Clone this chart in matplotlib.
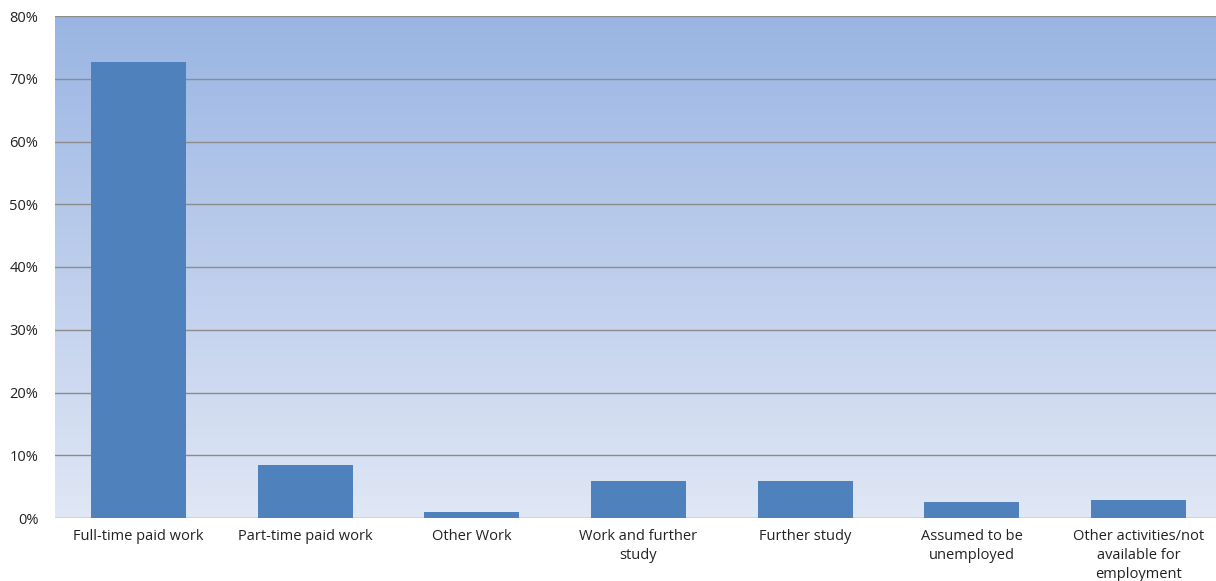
import matplotlib
matplotlib.use("Agg")
import matplotlib.pyplot as plt
import numpy as np
from matplotlib.colors import LinearSegmentedColormap
from matplotlib.ticker import FuncFormatter

categories = ["Full-time paid work", "Part-time paid work", "Other Work",
              "Work and further\nstudy", "Further study", "Assumed to be\nunemployed",
              "Other activities/not\navailable for\nemployment"]
values = [72.7, 8.5, 1.0, 5.9, 5.9, 2.5, 2.8]
yticks = [0, 10, 20, 30, 40, 50, 60, 70, 80]

plt.rcParams['font.family'] = ['Open Sans', 'DejaVu Sans']

fig = plt.figure(figsize=(12.16, 5.81), dpi=100)
ax = fig.add_axes([55/1216, 1-518/581, 1167/1216, (518-16)/581])

x = np.arange(len(categories))
ax.set_xlim(-0.5, len(categories)-0.5)
ax.set_ylim(0, 80)

cmap = LinearSegmentedColormap.from_list("bg", ["#E0E7F5", "#9AB5E3"])
grad = np.linspace(0, 1, 256).reshape(-1, 1)
ax.imshow(grad, cmap=cmap, aspect='auto', origin='lower',
          extent=[-0.5, len(categories)-0.5, 0, 80], zorder=0)

for t in yticks:
    ax.axhline(t, color="#8C8C8C", lw=1.0, zorder=1)

ax.bar(x, values, width=0.57, color="#4F81BD", zorder=2)

ax.set_xticks(x)
ax.set_xticklabels(categories, fontsize=10.5, color="#222222", linespacing=1.37)
ax.set_yticks(yticks)
ax.yaxis.set_major_formatter(FuncFormatter(lambda v, p: f"{int(v)}%"))
ax.tick_params(axis='y', labelsize=10.5, length=0, pad=12, colors="#222222")
ax.tick_params(axis='x', length=0, pad=8)
for s in ax.spines.values():
    s.set_visible(False)

fig.savefig("out.png", dpi=100)
